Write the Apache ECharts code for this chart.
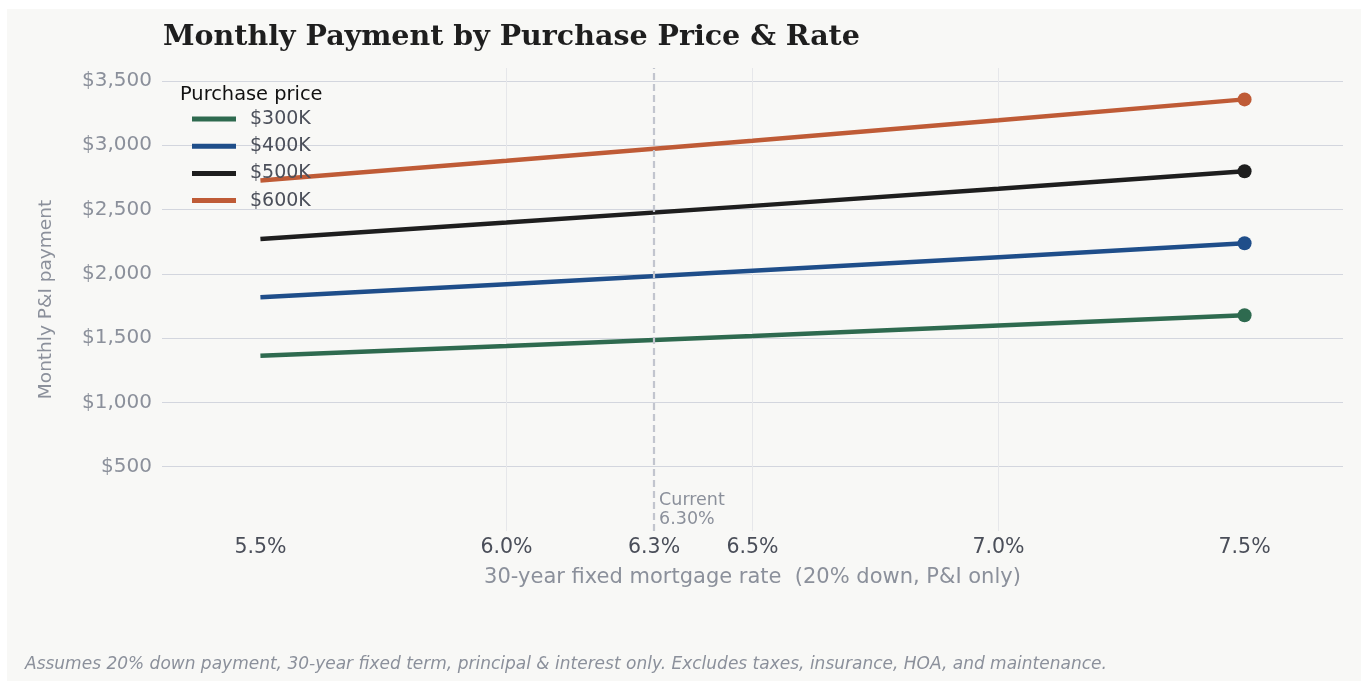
<!DOCTYPE html>
<html>
<head>
<meta charset="utf-8">
<script src="https://cdn.jsdelivr.net/npm/echarts@6/dist/echarts.min.js"></script>
<style>
html,body{margin:0;padding:0;background:#ffffff;}
#chart{width:1361px;height:681px;}
</style>
</head>
<body>
<div id="chart"></div>
<script>
// ---- data ----
const rates = [5.5, 6.0, 6.5, 7.0, 7.5];
const seriesNames = ['$300K', '$400K', '$500K', '$600K'];
const pay300 = [1363, 1439, 1517, 1597, 1678];
const pay400 = [1817, 1919, 2023, 2129, 2237];
const pay500 = [2271, 2398, 2528, 2661, 2797];
const pay600 = [2725, 2878, 3034, 3193, 3356];
const xTickLabels = [5.5, 6.0, 6.3, 6.5, 7.0, 7.5];
const xGridValues = [5.5, 6.0, 6.5, 7.0, 7.5];
const currentRate = 6.30;
const colors = ['#2e6a4f', '#1f4e8a', '#1e1e1e', '#bf5b36'];

const allPays = [pay300, pay400, pay500, pay600];
const gray = '#8b909b';

const series = seriesNames.map((name, i) => ({
  name: name,
  type: 'line',
  data: rates.map((r, j) => [r, allPays[i][j]]),
  lineStyle: { width: 4.5, color: colors[i], cap: 'butt' },
  itemStyle: { color: colors[i] },
  symbol: 'circle',
  showAllSymbol: true,
  symbolSize: (v, p) => (p.dataIndex === rates.length - 1 ? 14 : 0),
  emphasis: { disabled: true },
  z: 3
}));

series.push({
  name: 'current',
  type: 'line',
  data: [],
  markLine: {
    silent: true,
    symbol: ['none', 'none'],
    label: { show: false },
    lineStyle: { color: '#c2c5ce', type: [7, 4], width: 2.2 },
    data: [{ xAxis: currentRate }]
  },
  markPoint: {
    silent: true,
    symbol: 'circle',
    symbolSize: 0,
    data: [{ coord: [currentRate, 160] }],
    label: {
      show: true,
      position: 'right',
      distance: 5,
      formatter: 'Current\n' + currentRate.toFixed(2) + '%',
      color: gray,
      fontSize: 17.5,
      lineHeight: 19,
      fontFamily: 'DejaVu Sans',
      align: 'left'
    }
  }
});

const chart = echarts.init(document.getElementById('chart'));
chart.setOption({
  animation: false,
  backgroundColor: 'transparent',
  graphic: [{
    type: 'rect', z: -10, silent: true,
    shape: { x: 7, y: 9, width: 1354, height: 672 },
    style: { fill: '#f8f8f6' }
  }],
  title: [{
    text: 'Monthly Payment by Purchase Price & Rate',
    left: 158, top: 18,
    textStyle: { fontFamily: 'DejaVu Serif', fontWeight: 'bold', fontSize: 28.5, color: '#1e1e1e' }
  }, {
    text: 'Purchase price',
    left: 175, top: 80,
    textStyle: { fontFamily: 'DejaVu Sans', fontWeight: 'normal', fontSize: 19.4, color: '#111111' }
  }, {
    text: 'Assumes 20% down payment, 30-year fixed term, principal & interest only. Excludes taxes, insurance, HOA, and maintenance.',
    left: 20, top: 651.5,
    textStyle: { fontFamily: 'DejaVu Sans', fontStyle: 'italic', fontWeight: 'normal', fontSize: 17, color: gray }
  }],
  legend: {
    data: seriesNames,
    orient: 'vertical',
    left: 187, top: 104.5,
    icon: 'rect',
    itemWidth: 44, itemHeight: 5,
    itemGap: 8.2,
    textStyle: { fontFamily: 'DejaVu Sans', fontSize: 19, color: '#4b4f5a', padding: [0, 0, 0, 9] },
    selectedMode: false
  },
  grid: { left: 162, right: 18, top: 68, bottom: 150, containLabel: false },
  xAxis: {
    type: 'value',
    min: 5.3, max: 7.7,
    axisLine: { show: false },
    axisTick: { show: false, customValues: xGridValues },
    axisLabel: {
      customValues: xTickLabels,
      formatter: v => v.toFixed(1) + '%',
      fontFamily: 'DejaVu Sans', fontSize: 20.5, color: '#4a4e59', margin: 6
    },
    splitLine: { show: true, showMinLine: false, showMaxLine: false, lineStyle: { color: '#e6e7ea', width: 1 } },
    name: '30-year fixed mortgage rate  (20% down, P&I only)',
    nameLocation: 'middle',
    nameGap: 36.5,
    nameTextStyle: { fontFamily: 'DejaVu Sans', fontSize: 21, color: gray }
  },
  yAxis: {
    type: 'value',
    min: 0, max: 3600, interval: 500,
    axisLine: { show: false },
    axisTick: { show: false },
    axisLabel: {
      showMinLabel: false, showMaxLabel: false,
      formatter: v => '$' + v.toLocaleString('en-US'),
      fontFamily: 'DejaVu Sans', fontSize: 20, color: gray, margin: 10
    },
    splitLine: { show: true, showMinLine: false, showMaxLine: false, lineStyle: { color: '#d3d6de', width: 1.2 } },
    name: 'Monthly P&I payment',
    nameLocation: 'middle',
    nameGap: 106,
    nameTextStyle: { fontFamily: 'DejaVu Sans', fontSize: 18.5, color: gray }
  },
  series: series
});
</script>
</body>
</html>
